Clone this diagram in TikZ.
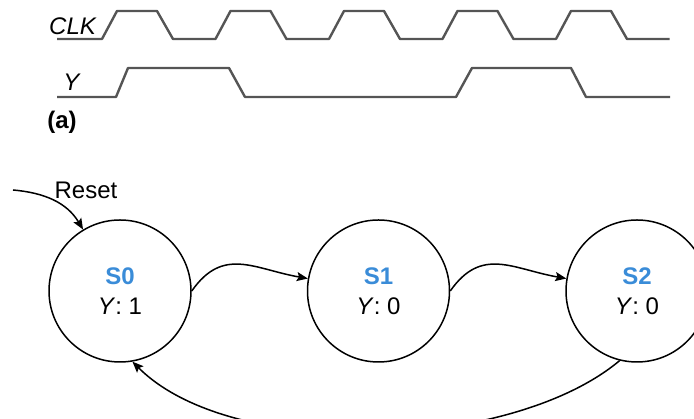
\documentclass[tikz,border=0pt]{standalone}
\usepackage{fontspec}
\setmainfont{Liberation Sans}
\usepackage{tikz}
\usetikzlibrary{automata, positioning, arrows, arrows.meta}
\usepackage{xcolor}
\definecolor{stateblue}{RGB}{58,140,216}
\definecolor{wavegray}{RGB}{85,85,85}

\begin{document}
\begin{tikzpicture}[x=1pt,y=1pt,>={Stealth[length=11pt,width=9pt,inset=2pt]},node distance=115pt,
      font=\fontsize{24}{30}\selectfont,
      every state/.append style={line width=1.5pt,minimum size=142pt,inner sep=0pt,align=center},
      wave/.style={draw=wavegray,line width=2.4pt,line join=round}]
      \useasboundingbox (0,0) rectangle (694,419);

      % timing diagram
      \node (clklbl) at (73,393) {\textit{CLK}};
      \node (ylbl) at (72,337) {\textit{Y}};
      \node (alabel) at (62,297) {\textbf{(a)}};
      \draw[wave] (57,380) -- (102,380)
            \foreach \k in {0,...,4} { -- ++(15,28) -- ++(40,0) -- ++(16,-28) -- ++(42.5,0) };
      \draw[wave] (57,322) -- (116,322) -- (128,351) -- (229,351) -- (245,322)
            -- (456,322) -- (472,351) -- (571,351) -- (586,322) -- (670,322);

      % state machine
      \node[state] (s0) at (120,128) {\textcolor{stateblue}{\textbf{S0}}\\\textit{Y}: 1};
      \node[state] (s1) [right=of s0] {\textcolor{stateblue}{\textbf{S1}}\\\textit{Y}: 0};
      \node[state] (s2) [right=of s1] {\textcolor{stateblue}{\textbf{S2}}\\\textit{Y}: 0};
      \coordinate (rst) at (13,229);
      \node (reset) at (86,229) {Reset};

      \path[->,line width=1.5pt]
            (rst) edge [out=-5, in=121] (s0.121)
            (s0.east) edge [out=55, in=170, looseness=1.2] (s1.170)
            (s1.east) edge [out=55, in=170, looseness=1.2] (s2.170)
            (s2.256) edge [out=220, in=-45, looseness=0.74] (s0.280)
            ;

\end{tikzpicture}
\end{document}
